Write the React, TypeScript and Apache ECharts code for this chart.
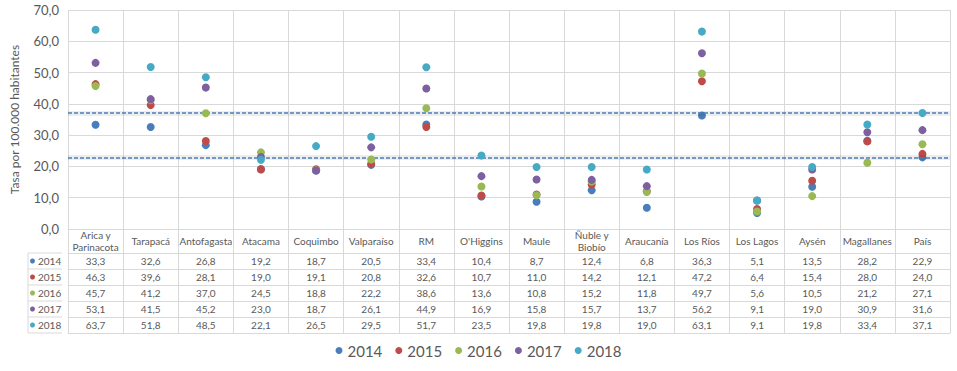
import React, { useEffect, useRef } from "react";
import * as echarts from "echarts";

const categories = [
  "Arica y\nParinacota", "Tarapacá", "Antofagasta", "Atacama", "Coquimbo", "Valparaíso", "RM", "O'Higgins",
  "Maule", "Ñuble y\nBiobío", "Araucanía", "Los Ríos", "Los Lagos", "Aysén", "Magallanes", "País",
];
const years = ["2014", "2015", "2016", "2017", "2018"];
const v2014 = [33.3, 32.6, 26.8, 19.2, 18.7, 20.5, 33.4, 10.4, 8.7, 12.4, 6.8, 36.3, 5.1, 13.5, 28.2, 22.9];
const v2015 = [46.3, 39.6, 28.1, 19.0, 19.1, 20.8, 32.6, 10.7, 11.0, 14.2, 12.1, 47.2, 6.4, 15.4, 28.0, 24.0];
const v2016 = [45.7, 41.2, 37.0, 24.5, 18.8, 22.2, 38.6, 13.6, 10.8, 15.2, 11.8, 49.7, 5.6, 10.5, 21.2, 27.1];
const v2017 = [53.1, 41.5, 45.2, 23.0, 18.7, 26.1, 44.9, 16.9, 15.8, 15.7, 13.7, 56.2, 9.1, 19.0, 30.9, 31.6];
const v2018 = [63.7, 51.8, 48.5, 22.1, 26.5, 29.5, 51.7, 23.5, 19.8, 19.8, 19.0, 63.1, 9.1, 19.8, 33.4, 37.1];
const seriesValues = [v2014, v2015, v2016, v2017, v2018];
const colors = ["#4A7EBB", "#BE4B48", "#98B954", "#7D60A0", "#46AAC5"];

const fmt = (v: number) => v.toFixed(1).replace(".", ",");

export default function App() {
  const ref = useRef<HTMLDivElement>(null);
  useEffect(() => {
    if (!ref.current) return;
    const chart = echarts.init(ref.current, undefined, { renderer: "svg" });
    const FONT = "Lato";
    const TXT = "#595959";
    const LINE = "#D9D9D9";
    const GL = 62, GR = 950, GT = 10, GB = 229;
    const HEADER_H = 24, ROW_H = 16;
    const TABLE_LEFT = 28;
    const rowTop = (i: number) => GB + HEADER_H + ROW_H * i;

    const rowAxes = seriesValues.map((vals, i) => ({
      type: "category",
      gridIndex: 0,
      position: "bottom",
      offset: HEADER_H + ROW_H * i,
      data: vals.map(fmt),
      axisLine: { show: true, lineStyle: { color: LINE, width: 1 } },
      axisTick: { show: true, alignWithLabel: false, interval: 0, length: ROW_H, lineStyle: { color: LINE } },
      axisLabel: { interval: 0, margin: 8, verticalAlign: "middle", fontFamily: FONT, fontSize: 10, color: TXT },
      splitLine: { show: false },
    }));
    const bottomAxis = {
      type: "category",
      gridIndex: 0,
      position: "bottom",
      offset: HEADER_H + ROW_H * years.length,
      data: categories,
      axisLine: { show: true, lineStyle: { color: LINE, width: 1 } },
      axisTick: { show: false },
      axisLabel: { show: false },
      splitLine: { show: false },
    };

    const leftLines: any[] = [];
    for (let i = 0; i <= years.length; i++) {
      leftLines.push({
        type: "line",
        shape: { x1: TABLE_LEFT, y1: rowTop(i), x2: GL, y2: rowTop(i) },
        style: { stroke: LINE, lineWidth: 1 },
        silent: true,
      });
    }
    leftLines.push({
      type: "line",
      shape: { x1: TABLE_LEFT, y1: rowTop(0), x2: TABLE_LEFT, y2: rowTop(years.length) },
      style: { stroke: LINE, lineWidth: 1 },
      silent: true,
    });

    const pais = categories.length - 1;
    const refValues = [seriesValues[0][pais], seriesValues[years.length - 1][pais]];

    const refSeries = (name: string, z: number, lineStyle: any) => ({
      name,
      type: "line",
      xAxisIndex: 0,
      yAxisIndex: 0,
      data: [],
      z,
      markLine: {
        silent: true,
        symbol: ["none", "none"],
        label: { show: false },
        lineStyle,
        data: refValues.map((v) => ({ yAxis: v })),
      },
    });

    chart.setOption({
      animation: false,
      color: colors,
      textStyle: { fontFamily: FONT },
      grid: { left: GL, right: 957 - GR, top: GT, bottom: 371 - GB, containLabel: false },
      legend: [
        {
          data: years,
          bottom: 8,
          left: "center",
          icon: "circle",
          itemWidth: 7,
          itemHeight: 7,
          itemGap: 13,
          selectedMode: false,
          textStyle: { fontFamily: FONT, fontSize: 15, color: TXT },
        },
        {
          data: years,
          orient: "vertical",
          left: TABLE_LEFT + 2,
          top: rowTop(0),
          padding: 0,
          icon: "circle",
          itemWidth: 5,
          itemHeight: 5,
          itemGap: 0,
          selectedMode: false,
          textStyle: { fontFamily: FONT, fontSize: 10, color: TXT, lineHeight: ROW_H, padding: [0, 0, 0, -2] },
        },
      ],
      xAxis: [
        {
          type: "category",
          data: categories,
          boundaryGap: true,
          axisLine: { show: true, lineStyle: { color: LINE } },
          axisTick: { show: true, alignWithLabel: false, interval: 0, length: HEADER_H, lineStyle: { color: LINE } },
          axisLabel: { interval: 0, margin: 12, verticalAlign: "middle", lineHeight: 12, fontFamily: FONT, fontSize: 10, color: TXT },
          splitLine: { show: true, interval: 0, lineStyle: { color: LINE } },
        },
        ...rowAxes,
        bottomAxis,
      ],
      yAxis: {
        type: "value",
        min: 0,
        max: 70,
        interval: 10,
        name: "Tasa por 100.000 habitantes",
        nameLocation: "middle",
        nameGap: 48,
        nameTextStyle: { fontFamily: FONT, fontSize: 12, color: TXT },
        axisLine: { show: false },
        axisTick: { show: false },
        axisLabel: { formatter: (v: number) => fmt(v), fontFamily: FONT, fontSize: 13, color: TXT, margin: 9 },
        splitLine: { show: true, lineStyle: { color: LINE } },
      },
      graphic: leftLines,
      series: [
        refSeries("refShadow", 1, { color: "rgba(0,0,0,0.07)", type: "solid", width: 5 }),
        refSeries("ref", 2, { color: "#4A7EBB", type: [4, 2], width: 1.5 }),
        ...years.map((y, i) => ({
          name: y,
          type: "scatter",
          xAxisIndex: 0,
          data: seriesValues[i],
          symbolSize: 8,
          itemStyle: { color: colors[i], opacity: 1 },
          z: 3 + i,
        })),
      ],
    });
    return () => chart.dispose();
  }, []);
  return (
    <div style={{ position: "absolute", left: 0, top: 0, width: 957, height: 371, background: "#fff" }}>
      <div ref={ref} style={{ width: 957, height: 371 }} />
    </div>
  );
}
